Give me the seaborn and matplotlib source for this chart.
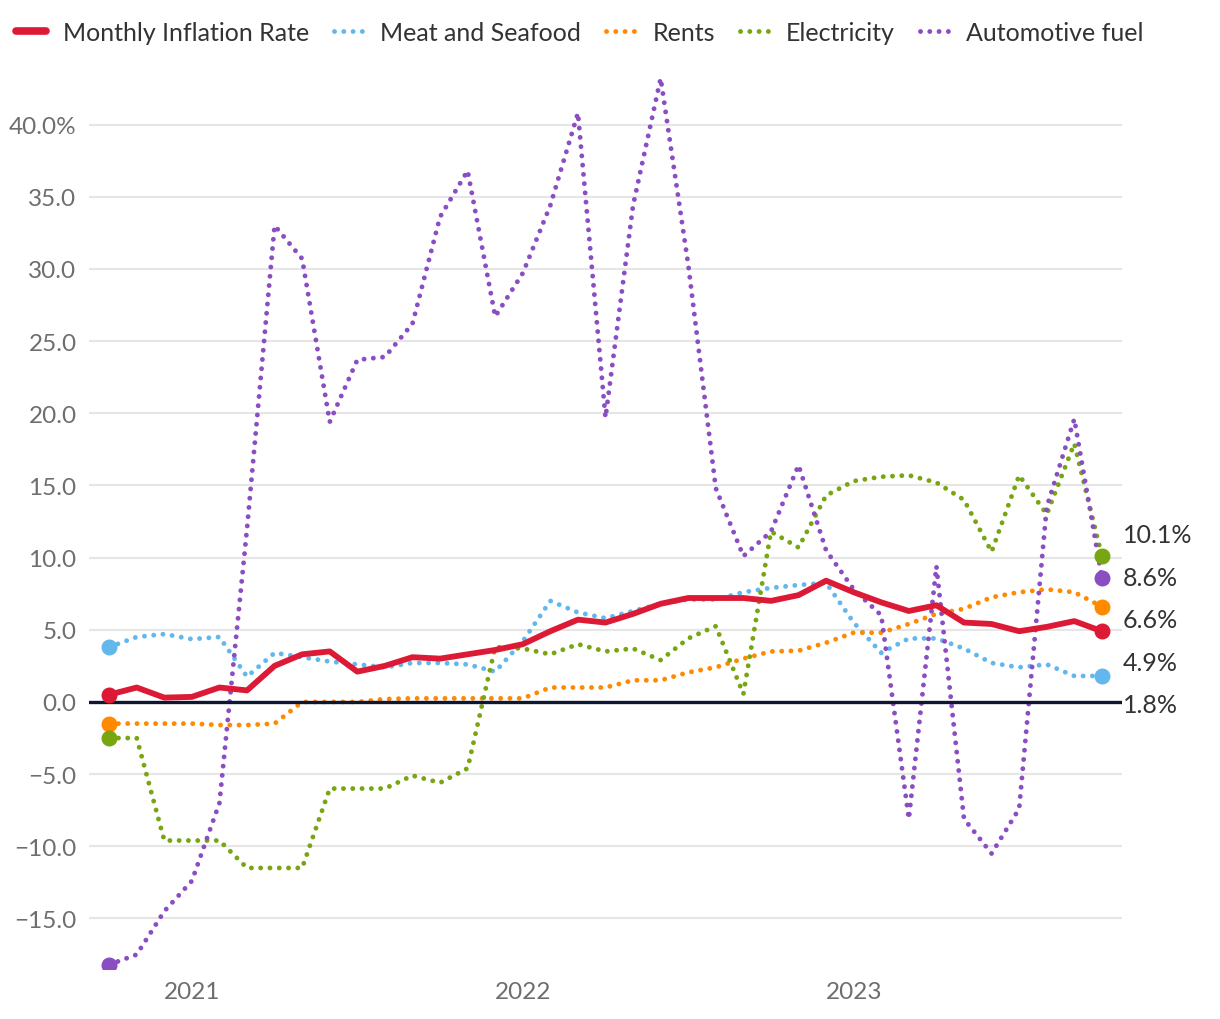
import numpy as np
import pandas as pd
import matplotlib
matplotlib.use("Agg")
import matplotlib.pyplot as plt
import matplotlib.transforms as mtransforms
from matplotlib.ticker import FuncFormatter
import seaborn as sns

# monthly, Oct 2020 .. Oct 2023
months = pd.date_range("2020-10-01", "2023-10-01", freq="MS")

inflation = [0.5, 1.0, 0.3, 0.35, 1.0, 0.8, 2.5, 3.3, 3.5, 2.1, 2.5, 3.1, 3.0, 3.3,
             3.6, 4.0, 4.9, 5.7, 5.5, 6.1, 6.8, 7.2, 7.2, 7.2, 7.0, 7.4, 8.4, 7.6,
             6.9, 6.3, 6.7, 5.5, 5.4, 4.9, 5.2, 5.6, 4.9]
meat = [3.8, 4.5, 4.7, 4.35, 4.5, 1.75, 3.4, 3.1, 2.8, 2.6, 2.4, 2.7, 2.7, 2.6,
        2.1, 4.2, 7.0, 6.2, 5.8, 6.3, 6.8, 7.1, 7.1, 7.6, 7.9, 8.1, 8.25, 5.5,
        3.4, 4.4, 4.4, 3.7, 2.7, 2.4, 2.6, 1.8, 1.8]
rents = [-1.5, -1.5, -1.5, -1.5, -1.6, -1.6, -1.5, 0.0, 0.0, 0.0, 0.2, 0.25, 0.25, 0.25,
         0.25, 0.25, 1.0, 1.0, 1.0, 1.5, 1.5, 2.05, 2.4, 3.0, 3.5, 3.55, 4.1, 4.8,
         4.8, 5.4, 6.1, 6.45, 7.25, 7.6, 7.8, 7.6, 6.6]
electricity = [-2.5, -2.5, -9.6, -9.6, -9.6, -11.5, -11.5, -11.5, -6.0, -6.0, -6.0, -5.1, -5.6, -4.6,
               3.8, 3.7, 3.3, 4.0, 3.5, 3.7, 2.9, 4.4, 5.25, 0.55, 11.8, 10.7, 14.3, 15.3,
               15.6, 15.7, 15.2, 14.0, 10.4, 15.7, 13.0, 17.9, 10.1]
fuel = [-18.2, -17.5, -14.5, -12.4, -7.0, 12.0, 33.0, 30.7, 19.4, 23.7, 23.9, 26.2, 33.6, 36.8,
        26.7, 29.7, 34.4, 40.8, 19.7, 34.4, 43.2, 30.3, 14.8, 10.1, 11.8, 16.4, 10.5, 7.8,
        6.0, -8.1, 9.4, -8.1, -10.5, -7.4, 13.5, 19.6, 8.6]

names = ["Monthly Inflation Rate", "Meat and Seafood", "Rents", "Electricity", "Automotive fuel"]
colors = ["#DC1A36", "#62B8EC", "#FF8A00", "#78A512", "#8A4DC2"]
series = [inflation, meat, rents, electricity, fuel]

sns.set_style("white")
plt.rcParams["font.family"] = ["Lato", "DejaVu Sans"]

fig = plt.figure(figsize=(12.2, 10.2), dpi=100)
ax = fig.add_axes([89 / 1220, 1 - 970 / 1020, (1122 - 89) / 1220, (970 - 75) / 1020])

df = pd.DataFrame({"idx": np.arange(len(months))})
for name, vals in zip(names, series):
    df[name] = vals

dots = (0, (0.01, 1.9))
handles = []
for k, (name, color) in enumerate(zip(names, colors)):
    if k == 0:
        sns.lineplot(data=df, x="idx", y=name, ax=ax, color=color, lw=4.2,
                     solid_capstyle="round", solid_joinstyle="round", zorder=5)
        h = plt.Line2D([], [], color=color, lw=5.5, solid_capstyle="round")
    else:
        sns.lineplot(data=df, x="idx", y=name, ax=ax, color=color, lw=3.5,
                     linestyle=dots, dash_capstyle="round", zorder=3)
        h = plt.Line2D([], [], color=color, lw=3.5, linestyle=dots,
                       dash_capstyle="round")
    ends = df.iloc[[0, -1]]
    ax.plot(ends["idx"], ends[name], "o", ms=10.5, color=color, zorder=6)
    handles.append(h)

ax.axhline(0, color="#0F1631", lw=2.4, zorder=4)

ax.set_xlim(-0.73, len(months) - 1 + 0.73)
ax.set_ylim(-18.5, 43.5)

yt = np.arange(-15, 41, 5)
ax.set_yticks(yt)
def yfmt(v, pos):
    s = f"{abs(v):.1f}"
    if v < 0:
        s = "\u2212" + s
    if v == yt.max():
        s += "%"
    return s
ax.yaxis.set_major_formatter(FuncFormatter(yfmt))

jan = [i for i, m in enumerate(months) if m.month == 1]
ax.set_xticks(jan)
ax.set_xticklabels([str(months[i].year) for i in jan])

ax.tick_params(axis="y", length=0, pad=9, labelsize=17.5, labelcolor="#6E6E6E")
ax.tick_params(axis="x", length=0, pad=9, labelsize=17.5, labelcolor="#6E6E6E")
ax.grid(axis="y", color="#E6E6E6", lw=1.5)
ax.grid(axis="x", visible=False)
ax.set_axisbelow(True)
sns.despine(ax=ax, left=True, bottom=True)
ax.set_xlabel("")
ax.set_ylabel("")

# end labels, spread so they do not overlap
last = np.array([s[-1] for s in series])
order = np.argsort(-last)
gap = 2.95
center = last.mean() - 0.7
trans = mtransforms.blended_transform_factory(ax.transAxes, ax.transData)
for rank, k in enumerate(order):
    ypos = center + gap * ((len(order) - 1) / 2 - rank)
    ax.annotate(f"{last[k]:.1f}%", xy=(1.0, ypos), xycoords=trans,
                xytext=(0.5, 0), textcoords="offset points",
                va="center", ha="left", fontsize=18, color="#333333",
                annotation_clip=False)

fig.legend(handles, names, loc="center left", bbox_to_anchor=(-0.005, 0.967),
           ncol=5, frameon=False, fontsize=18, handlelength=1.2,
           handletextpad=0.65, columnspacing=1.0, labelcolor="#333333")

fig.savefig("out.png", dpi=100)
